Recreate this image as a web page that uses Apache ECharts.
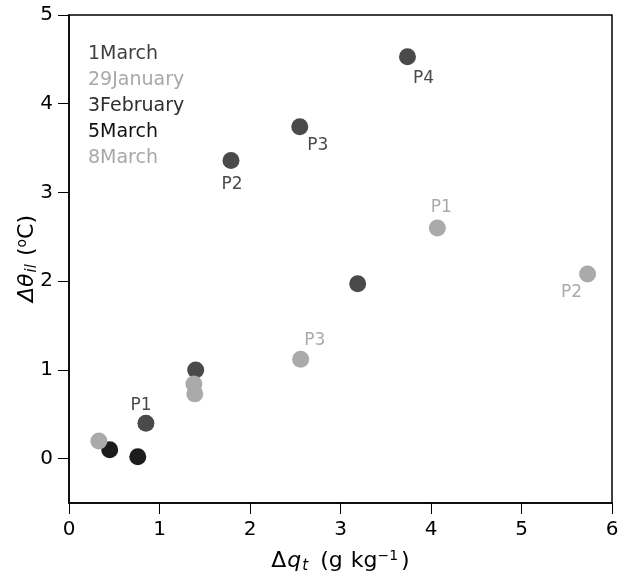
<!DOCTYPE html>
<html><head><meta charset="utf-8">
<script src="https://cdn.jsdelivr.net/npm/echarts@6/dist/echarts.min.js"></script>
<style>html,body{margin:0;padding:0;background:#fff}#c{width:621px;height:575px}</style>
</head><body><div id="c"></div>
<script>
const seriesNames = ['1March','29January','3February','5March','8March'];
const seriesColors = ['#4a4a4a','#aaaaaa','#4a4a4a','#1c1c1c','#aaaaaa'];
const legendColors = ['#404040','#a8a8a8','#2e2e2e','#111111','#a8a8a8'];
// [dq_t, dtheta_il, label]
const march1 = [[0.85,0.40,'P1'],[1.79,3.36,'P2'],[2.55,3.74,'P3'],[3.74,4.53,'P4']];
const jan29 = [[4.07,2.60,'P1'],[5.73,2.08,'P2'],[2.56,1.12,'P3']];
const feb3 = [[1.40,1.00,''],[3.19,1.97,'']];
const march5 = [[0.45,0.10,''],[0.76,0.02,'']];
const march8 = [[0.33,0.20,''],[1.38,0.84,''],[1.39,0.73,'']];
const xTicks = [0,1,2,3,4,5,6];
const yTicks = [0,1,2,3,4,5];
const dataSets = [march1, jan29, feb3, march5, march8];
const labelOffsets = {
  '1March': {P1:[-5,-18],P2:[1,24],P3:[18,19],P4:[16,22]},
  '29January': {P1:[4,-20],P2:[-16,18],P3:[14,-19]}
};

const chart = echarts.init(document.getElementById('c'));
const font = 'DejaVu Sans';
const series = dataSets.map((d,i)=>({
  name: seriesNames[i], type:'scatter', symbolSize:17,
  itemStyle:{color:seriesColors[i], opacity:1},
  data: d.map(p=>{
    const item = {value:[p[0],p[1]]};
    if (p[2]) {
      item.label = {show:true, formatter:p[2], position:'inside',
        offset: labelOffsets[seriesNames[i]][p[2]],
        color:seriesColors[i], fontSize:17, fontFamily:font};
    }
    return item;
  })
}));
const rich = {
  a:{fontSize:22,fontFamily:font,color:'#000'},
  i:{fontSize:22,fontFamily:font,fontStyle:'italic',color:'#000',padding:[0,1,0,1]},
  s:{fontSize:15,fontFamily:font,fontStyle:'italic',color:'#000',padding:[10,0,0,0]},
  sup:{fontSize:14,fontFamily:font,color:'#000',padding:[0,0,10,0]},
  g1:{fontSize:22,width:12},
  g2:{fontSize:22,width:8},
  g3:{fontSize:22,width:3}
};
chart.setOption({
  animation:false,
  grid:{left:69,right:9,top:15,bottom:72,containLabel:false,outerBoundsMode:'none',
    show:true,borderColor:'#000',borderWidth:1.5,backgroundColor:'transparent'},
  legend:{
    orient:'vertical', left:78, top:40, icon:'none', itemWidth:0, itemGap:7,
    textStyle:{fontSize:19,fontFamily:font},
    data: seriesNames.map((n,i)=>({name:n,textStyle:{color:legendColors[i]}}))
  },
  xAxis:{type:'value',min:xTicks[0],max:xTicks[xTicks.length-1],interval:1,
    axisLine:{show:true,onZero:false,lineStyle:{color:'#000',width:1.5}},
    axisTick:{show:true,length:11,lineStyle:{color:'#000'}},
    splitLine:{show:false},
    axisLabel:{fontSize:20,fontFamily:font,color:'#000',margin:17},
    name:'{a|Δ}{i|q}{s|t}{g1| }{a|(g}{g2| }{a|kg}{sup|−1}{g3| }{a|)}', nameLocation:'middle', nameGap:46,
    nameTextStyle:{rich:rich}
  },
  yAxis:{type:'value',min:-0.5,max:5,
    axisLine:{show:true,onZero:false,lineStyle:{color:'#000',width:1.5}},
    axisTick:{show:true,length:11,lineStyle:{color:'#000'},customValues:yTicks},
    axisLabel:{fontSize:20,fontFamily:font,color:'#000',margin:16,customValues:yTicks},
    splitLine:{show:false},
    name:'{i|Δθ}{s|il}{g2| }{a|(}{sup|o}{a|C)}', nameLocation:'middle', nameGap:29, nameRotate:90,
    nameMoveOverlap:false,
    nameTextStyle:{rich:rich}
  },
  series: series
});
</script></body></html>
